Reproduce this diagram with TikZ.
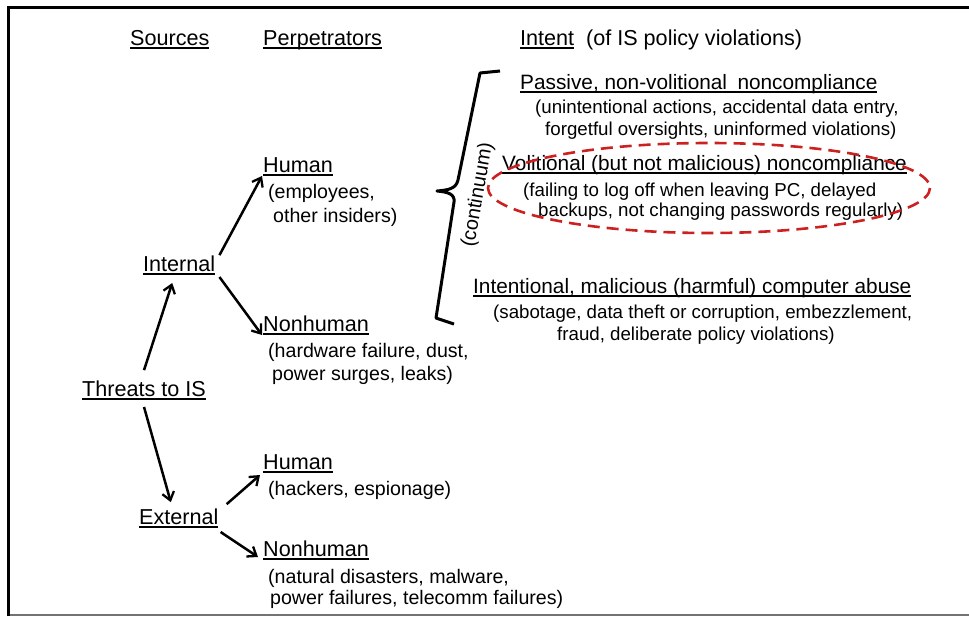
\documentclass[tikz,border=0pt]{standalone}
\usepackage{fontspec}
\setmainfont{Liberation Sans}
\usepackage{tikz}
\usetikzlibrary{arrows.meta}
\newsavebox{\undlbox}
\newcommand{\undl}[1]{\sbox{\undlbox}{#1}\rlap{\rule[-3.8pt]{\wd\undlbox}{1.8pt}}\usebox{\undlbox}}
\tikzset{c-head/.style={anchor=base west, inner sep=0pt, font=\fontsize{21.6}{24}\selectfont},
c-head2/.style={anchor=base west, inner sep=0pt, font=\fontsize{20.8}{24}\selectfont},
c-sub/.style={anchor=base west, inner sep=0pt, font=\fontsize{19.6}{23}\selectfont},
c-sub2/.style={anchor=base west, inner sep=0pt, font=\fontsize{18.7}{22}\selectfont},
arrow/.style={line width=2.5pt,-{Straight Barb[length=8pt,width=12pt,line width=2.3pt]}}}
\definecolor{c_frame}{rgb}{0.0, 0.0, 0.0}
\definecolor{c_edge}{rgb}{0.45, 0.45, 0.45}
\definecolor{c_red}{rgb}{0.80, 0.13, 0.13}
\begin{document}
\begin{tikzpicture}[x=1pt, y=-1pt]
\useasboundingbox (0,0) rectangle (969,616);
% frame of the screenshot
\draw [c_edge, line width=2pt] (8,615) -- (969,615);
\draw [c_frame, line width=3pt] (8.5,616) -- (8.5,7.5) -- (969,7.5);
% column headers
\node (hsrc) [c-head] at (130,45) {\undl{Sources}};
\node (hperp) [c-head] at (263,45) {\undl{Perpetrators}};
\node (hint) [c-head] at (520,45) {\undl{Intent}\hspace{0.55em}(of IS policy violations)};
% sources and perpetrators
\node (n0) [c-head] at (82,396) {\undl{Threats to IS}};
\node (n1up) [c-head] at (143,271) {\undl{Internal}};
\node (n1dn) [c-head] at (139,524) {\undl{External}};
\node (n2hu) [c-head] at (263,172) {\undl{Human}};
\node (n2hua) [c-sub] at (268,198) {(employees,};
\node (n2hub) [c-sub] at (273,222) {other insiders)};
\node (n2nh) [c-head] at (263,331) {\undl{Nonhuman}};
\node (n2nha) [c-sub] at (268,357) {(hardware failure, dust,};
\node (n2nhb) [c-sub] at (272,380) {power surges, leaks)};
\node (n3hu) [c-head] at (263,469) {\undl{Human}};
\node (n3hua) [c-sub] at (268,495) {(hackers, espionage)};
\node (n3nh) [c-head] at (263,556) {\undl{Nonhuman}};
\node (n3nha) [c-sub] at (268,583) {(natural disasters, malware,};
\node (n3nhb) [c-sub] at (270,604) {power failures, telecomm failures)};
\draw [arrow] ([yshift=10pt]n0.north) -- ([xshift=-7pt,yshift=-8pt]n1up.south);
\draw [arrow] ([yshift=-7pt]n0.south) -- ([xshift=-8pt,yshift=6pt]n1dn.north);
\draw [arrow] ([xshift=4pt]n1up.north east) -- ([xshift=-1pt]n2hu.south west);
\draw [arrow] ([xshift=4pt,yshift=-2pt]n1up.south east) -- ([xshift=-1pt]n2nh.south west);
\draw [arrow] ([xshift=8pt,yshift=4pt]n1dn.north east) -- ([xshift=-3pt,yshift=-2pt]n3hu.south west);
\draw [arrow] ([xshift=2pt,yshift=-4pt]n1dn.south east) -- ([xshift=-5pt,yshift=3pt]n3nh.south west);
% intent, along the continuum
\node (i1) [c-head2] at (520,89) {\undl{Passive, non-volitional\hspace{0.5em}noncompliance}};
\node (i1a) [c-sub2] at (535,113) {(unintentional actions, accidental data entry,};
\node (i1b) [c-sub2] at (545,135) {forgetful oversights, uninformed violations)};
\node (i2) [c-head2] at (502,170) {\undl{Volitional (but not malicious) noncompliance}};
\node (i2a) [c-sub2] at (523,196) {(failing to log off when leaving PC, delayed};
\node (i2b) [c-sub2] at (538,216) {backups, not changing passwords regularly)};
\node (i3) [c-head2] at (473,293) {\undl{Intentional, malicious (harmful) computer abuse}};
\node (i3a) [c-sub2] at (493,318) {(sabotage, data theft or corruption, embezzlement,};
\node (i3b) [c-sub2] at (557,340) {fraud, deliberate policy violations)};
% brace
\draw [line width=3pt, line join=round] (500,71) -- (480,73) -- (458,180)
  .. controls (456,189) and (448,190) .. (437,191)
  .. controls (448,192) and (455,194) .. (454,202) -- (436,318) -- (454,324);
\node (cont) [font=\fontsize{20}{24}\selectfont, rotate=80, inner sep=0pt] at (478,195) {(continuum)};
% highlighted kind
\draw [c_red, line width=2.6pt, dash pattern=on 12pt off 7pt] (709,188) ellipse [x radius=221, y radius=45];
\end{tikzpicture}
\end{document}
